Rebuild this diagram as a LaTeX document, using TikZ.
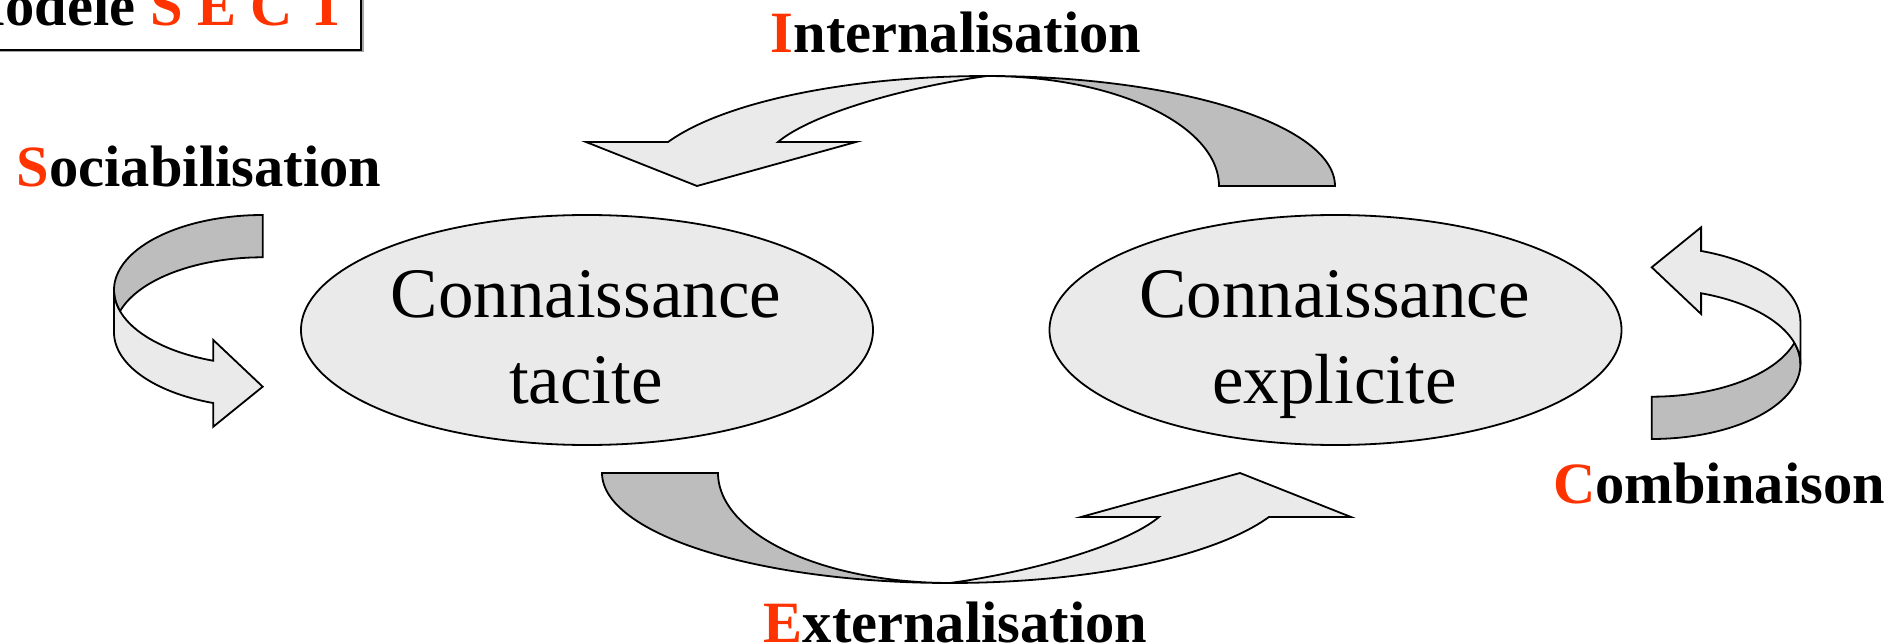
\documentclass[tikz,border=0pt]{standalone}
\usepackage{fontspec}
\setmainfont{Liberation Serif}
\usetikzlibrary{shapes.geometric}
\definecolor{sectred}{RGB}{255,51,0}
\definecolor{lightfill}{RGB}{234,234,234}
\definecolor{darkfill}{RGB}{189,189,189}
\tikzset{
  frontband/.style={fill=lightfill, draw=black, line width=1.8pt, line join=miter},
  backband/.style={fill=darkfill, draw=black, line width=1.8pt, line join=miter},
  lbl/.style={font=\fontsize{58.5}{70}\selectfont\bfseries, inner sep=0pt, anchor=base},
  ctext/.style={font=\fontsize{71}{85}\selectfont, inner sep=0pt, anchor=base},
  bubble/.style={ellipse, draw=black, fill=lightfill, line width=1.8pt,
    minimum width=572pt, minimum height=230pt, inner sep=0pt},
  ribbonarc/.pic={
    \filldraw[backband] plot[domain=0:-90,samples=60] ({348*cos(\x)},{110+110*sin(\x)})
      -- plot[domain=-90:0,samples=60] ({232*cos(\x)},{110+110*sin(\x)}) -- cycle;
    \filldraw[frontband] plot[domain=-90:-156.4,samples=60] ({348*cos(\x)},{110+110*sin(\x)})
      -- (-401,66) -- (-290,110) -- (-131,66) -- (-209,66)
      .. controls (-177,39) and (-87,12) .. (0,0) -- cycle;
  },
  ribbonside/.pic={
    \filldraw[backband] plot[domain=-90:-196.4,samples=60] ({148.7*cos(\x)},{75+75*sin(\x)})
      -- plot[domain=196.4:270,samples=60] ({148.7*cos(\x)},{117.3+75*sin(\x)}) -- cycle;
    \filldraw[frontband] plot[domain=109.4:180,samples=60] ({148.7*cos(\x)},{75+75*sin(\x)})
      -- plot[domain=180:109.4,samples=60] ({148.7*cos(\x)},{117.3+75*sin(\x)})
      -- (-49.4,211.7) -- (0,171.7) -- (-49.4,125) -- cycle;
  }
}
\begin{document}
\begin{tikzpicture}[x=1pt,y=-1pt]
\useasboundingbox (0,0) rectangle (1901,644);
\fill[white] (0,0) rectangle (1901,644);
% title box
\fill[gray!70] (-17.5,-17.5) rectangle (363.5,52.5);
\draw[line width=1.8pt, fill=white] (-20,-20) rectangle (361,50);
\node[lbl, anchor=base east] (title) at (347,25.7) {Modele \textcolor{sectred}{S E C T}};
% ellipses
\node[bubble] (tacit) at (587,330) {};
\node[bubble] (explicit) at (1335.5,330) {};
\node[ctext] (t1) at (586,318) {Connaissance};
\node[ctext] (t2) at (586,403) {tacite};
\node[ctext] (e1) at (1334.5,318) {Connaissance};
\node[ctext] (e2) at (1334.5,403) {explicite};
% arrows
\pic (intarrow) at (987,76) {ribbonarc};
\pic[rotate=180] (extarrow) at (950,583) {ribbonarc};
\pic (socarrow) at (262.7,215) {ribbonside};
\pic[rotate=180] (comarrow) at (1651.7,439) {ribbonside};
% labels
\node[lbl] (intl) at (956,52.3) {\textcolor{sectred}{I}nternalisation};
\node[lbl] (extl) at (955.5,642) {\textcolor{sectred}{E}xternalisation};
\node[lbl] (socl) at (199,186.7) {\textcolor{sectred}{S}ociabilisation};
\node[lbl] (coml) at (1719,503.3) {\textcolor{sectred}{C}ombinaison};
\end{tikzpicture}
\end{document}
